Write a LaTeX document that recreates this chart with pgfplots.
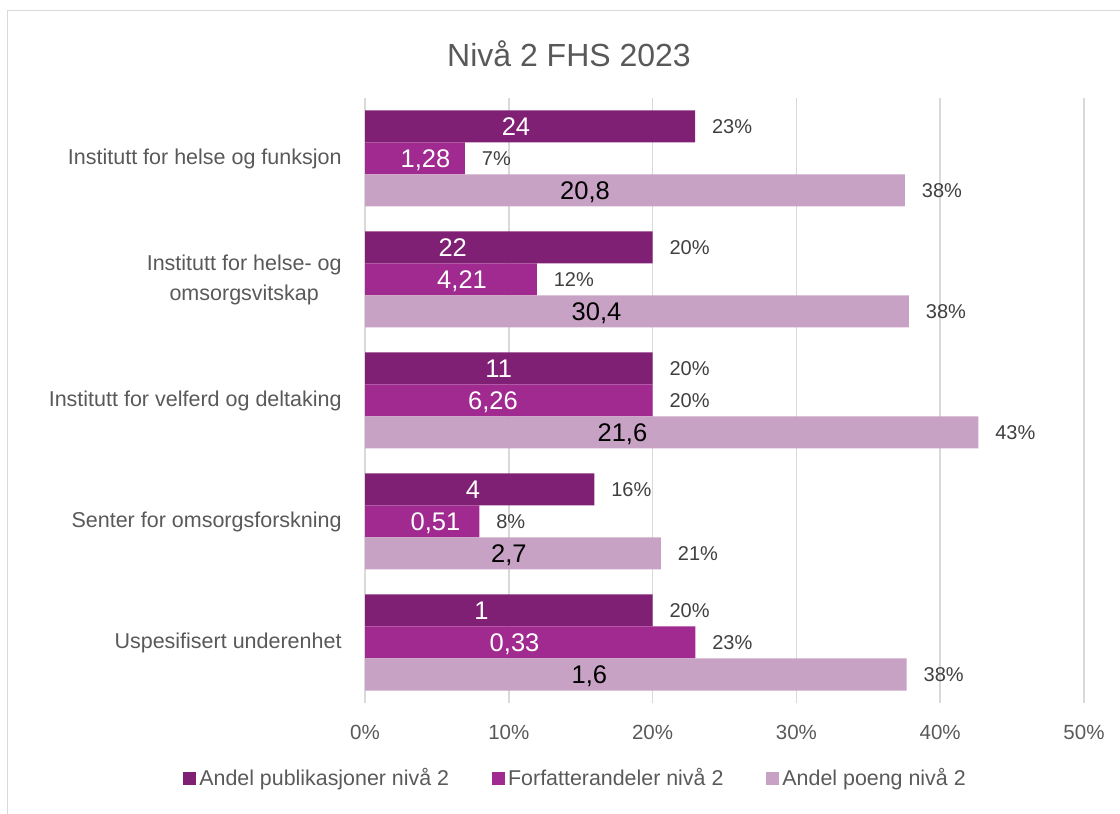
\documentclass[border=0pt]{standalone}
\usepackage{fontspec}
\setmainfont{Liberation Sans}
\usepackage{pgfplots}
\usepackage{pgfplotstable}
\pgfplotsset{compat=1.18}

\definecolor{pub}{HTML}{802074}
\definecolor{forf}{HTML}{A02A90}
\definecolor{poeng}{HTML}{C8A2C4}
\definecolor{txt}{HTML}{595959}
\definecolor{lblgray}{HTML}{404040}
\definecolor{grd}{HTML}{D9D9D9}

% cat: 4 = top category ... 0 = bottom
% pct = bar length (%), plab = printed %, lx = position of inner label, lbl = inner label
\pgfplotstableread{
cat pct plab lx lbl
4 22.95 23 10.5 24
3 20.0 20 6.1 22
2 20.0 20 9.3 11
1 15.95 16 7.5 4
0 20.0 20 8.1 1
}\pubdata
\pgfplotstableread{
cat pct plab lx lbl
4 6.95 7 4.2 1,28
3 11.95 12 6.75 4,21
2 20.0 20 8.9 6,26
1 7.95 8 4.9 0,51
0 22.97 23 10.4 0,33
}\forfdata
\pgfplotstableread{
cat pct plab lx lbl
4 37.55 38 15.3 20,8
3 37.83 38 16.1 30,4
2 42.65 43 17.9 21,6
1 20.58 21 10.0 2,7
0 37.67 38 15.6 1,6
}\poengdata

\newcommand\innerfont{\fontsize{12.75}{14}\selectfont}
\newcommand\outerfont{\fontsize{10}{12}\selectfont}

\pgfplotsset{
  inlab/.style 2 args={only marks, mark=none, forget plot,
    point meta=explicit symbolic, nodes near coords={\pgfplotspointmeta},
    nodes near coords style={anchor=base, inner sep=0pt, yshift=#1, text=#2, font=\innerfont}},
  outlab/.style={only marks, mark=none, forget plot,
    point meta=explicit symbolic, nodes near coords={\pgfplotspointmeta\%},
    nodes near coords style={anchor=base west, inner sep=0pt, xshift=8.3pt, yshift=#1, text=lblgray, font=\outerfont}},
}

\begin{document}
\begin{tikzpicture}
\path[use as bounding box] (0,0) rectangle (560pt,407pt);
\draw[grd, line width=0.5pt] (3.5pt,0) -- (3.5pt,401.5pt) -- (560pt,401.5pt);
\node[anchor=base, text=txt, font=\fontsize{16}{18}\selectfont] at (284.5pt,373.6pt) {Nivå 2 FHS 2023};

\begin{axis}[
  at={(182.5pt,55.5pt)}, anchor=south west,
  scale only axis, width=359.5pt, height=302.5pt,
  clip=false,
  xmin=0, xmax=50, ymin=-0.5, ymax=4.5,
  xtick={0,10,...,50},
  xticklabel={\pgfmathprintnumber{\tick}\%},
  /pgf/number format/assume math mode=true,
  xticklabel style={anchor=base, inner sep=0pt, yshift=-18.5pt, text=txt, font=\fontsize{10.25}{12}\selectfont},
  ytick={0,...,4},
  yticklabels={Uspesifisert underenhet, Senter for omsorgsforskning, Institutt for velferd og deltaking, {Institutt for helse- og\\omsorgsvitskap}, Institutt for helse og funksjon},
  yticklabel style={anchor=east, inner sep=0pt, xshift=-11.5pt, align=center, text=txt, font=\fontsize{10.75}{15}\selectfont},
  xmajorgrids, ymajorgrids=false,
  major grid style={grd, line width=0.75pt},
  axis line style={draw=none},
  tick style={draw=none},
  legend columns=3,
  legend style={at={(axis description cs:0.2935,-0.124)}, anchor=center, draw=none, fill=none,
    inner sep=0pt, text=txt, font=\fontsize{10.7}{12}\selectfont,
    nodes={inner sep=1.5pt},
    /tikz/every even column/.append style={column sep=20pt}},
  legend image code/.code={\fill[#1] (0pt,-3.25pt) rectangle (6.5pt,3.25pt);},
]
\addplot[xbar, bar width=16pt, bar shift=16pt, fill=pub, draw=none] table[x=pct, y=cat] {\pubdata};
\addlegendentry{Andel publikasjoner nivå 2}
\addplot[xbar, bar width=16pt, bar shift=0pt, fill=forf, draw=none] table[x=pct, y=cat] {\forfdata};
\addlegendentry{Forfatterandeler nivå 2}
\addplot[xbar, bar width=16pt, bar shift=-16pt, fill=poeng, draw=none] table[x=pct, y=cat] {\poengdata};
\addlegendentry{Andel poeng nivå 2}

\addplot[inlab={11.4pt}{white}] table[x=lx, y=cat, meta=lbl] {\pubdata};
\addplot[inlab={-4.6pt}{white}] table[x=lx, y=cat, meta=lbl] {\forfdata};
\addplot[inlab={-20.6pt}{black}] table[x=lx, y=cat, meta=lbl] {\poengdata};

\addplot[outlab={12.4pt}] table[x=pct, y=cat, meta=plab] {\pubdata};
\addplot[outlab={-3.6pt}] table[x=pct, y=cat, meta=plab] {\forfdata};
\addplot[outlab={-19.6pt}] table[x=pct, y=cat, meta=plab] {\poengdata};
\end{axis}
\end{tikzpicture}
\end{document}
